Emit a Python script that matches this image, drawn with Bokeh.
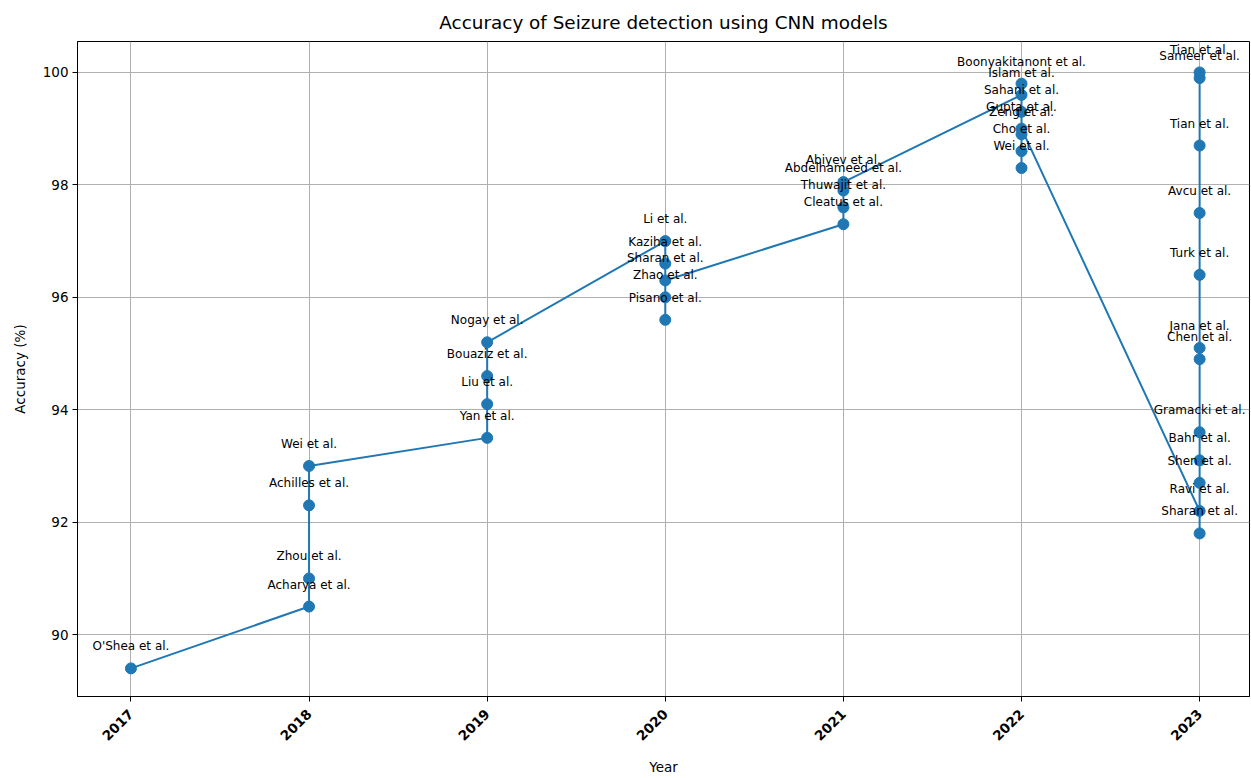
import math
from bokeh.plotting import figure
from bokeh.models import ColumnDataSource, FixedTicker, Range1d, LabelSet
from bokeh.core.properties import value
from bokeh.embed import file_html
from bokeh.resources import INLINE

# ---- data ----
years = [2017,
         2018, 2018, 2018, 2018,
         2019, 2019, 2019, 2019,
         2020, 2020, 2020, 2020, 2020,
         2021, 2021, 2021, 2021,
         2022, 2022, 2022, 2022, 2022, 2022, 2022,
         2023, 2023, 2023, 2023, 2023, 2023, 2023, 2023, 2023, 2023, 2023, 2023]
authors = ["O'Shea et al.",
           "Acharya et al.", "Zhou et al.", "Achilles et al.", "Wei et al.",
           "Yan et al.", "Liu et al.", "Bouaziz et al.", "Nogay et al.",
           "Li et al.", "Kaziha et al.", "Zhao et al.", "Pisano et al.", "Sharan et al.",
           "Cleatus et al.", "Thuwajit et al.", "Abdelhameed et al.", "Abiyev et al.",
           "Islam et al.", "Boonyakitanont et al.", "Sahani et al.", "Wei et al.", "Cho et al.", "Zeng et al.", "Gupta et al.",
           "Ravi et al.", "Sharan et al.", "Shen et al.", "Bahr et al.", "Gramacki et al.", "Chen et al.",
           "Jana et al.", "Turk et al.", "Avcu et al.", "Tian et al.", "Sameer et al.", "Tian et al."]
accuracy = [89.4,
            90.5, 91.0, 92.3, 93.0,
            93.5, 94.1, 94.6, 95.2,
            97.0, 96.6, 96.0, 95.6, 96.3,
            97.3, 97.6, 97.9, 98.05,
            99.6, 99.8, 99.3, 98.3, 98.6, 98.9, 99.0,
            92.2, 91.8, 92.7, 93.1, 93.6, 94.9,
            95.1, 96.4, 97.5, 98.7, 99.9, 100.0]
year_ticks = [2017, 2018, 2019, 2020, 2021, 2022, 2023]
acc_ticks = [90, 92, 94, 96, 98, 100]

title = "Accuracy of Seizure detection using CNN models"
x_label = "Year"
y_label = "Accuracy (%)"

FONT = "DejaVu Sans"
BLUE = "#1f77b4"

source = ColumnDataSource(data=dict(year=years, acc=accuracy, author=authors))

p = figure(width=1250, height=778, output_backend="svg", toolbar_location=None,
           x_range=Range1d(2016.70, 2023.28), y_range=Range1d(88.90, 100.55),
           min_border_left=77, min_border_right=1, min_border_top=41,
           min_border_bottom=82, title=title)

p.title.align = "center"
p.title.text_font = FONT
p.title.text_font_size = "18.4px"
p.title.text_font_style = "normal"
p.title.text_color = "black"
p.title.standoff = 18

p.background_fill_color = "white"
p.border_fill_color = "white"
p.outline_line_color = "black"
p.outline_line_alpha = 1.0
p.outline_line_width = 1

p.xaxis.ticker = FixedTicker(ticks=year_ticks)
p.yaxis.ticker = FixedTicker(ticks=acc_ticks)
p.xaxis.major_label_orientation = math.pi / 4
p.xaxis.axis_label = x_label
p.yaxis.axis_label = y_label

for ax in (p.xaxis, p.yaxis):
    ax.axis_line_color = "black"
    ax.major_tick_line_color = "black"
    ax.major_tick_out = 5
    ax.major_tick_in = 0
    ax.minor_tick_line_color = None
    ax.major_label_text_font = FONT
    ax.major_label_text_font_size = "13.5px"
    ax.major_label_text_color = "black"
    ax.axis_label_text_font = FONT
    ax.axis_label_text_font_size = "13.5px"
    ax.axis_label_text_font_style = "normal"
    ax.axis_label_text_color = "black"
    ax.major_label_standoff = 4

p.xaxis.major_label_standoff = 10
p.xaxis.axis_label_standoff = 11
p.yaxis.axis_label_standoff = 12
p.xaxis.major_label_text_font_style = "bold"

p.grid.grid_line_color = "#b0b0b0"
p.grid.grid_line_width = 1

p.line(x="year", y="acc", source=source, line_color=BLUE, line_width=2)
p.scatter(x="year", y="acc", source=source, size=11, fill_color=BLUE, line_color=BLUE)

labels = LabelSet(x="year", y="acc", text="author", source=source,
                  text_align="center", text_baseline="alphabetic", y_offset=18,
                  text_font=value(FONT), text_font_size=value("12px"),
                  text_color=value("black"))
p.add_layout(labels)

open("out.html", "w").write(file_html(p, INLINE))
